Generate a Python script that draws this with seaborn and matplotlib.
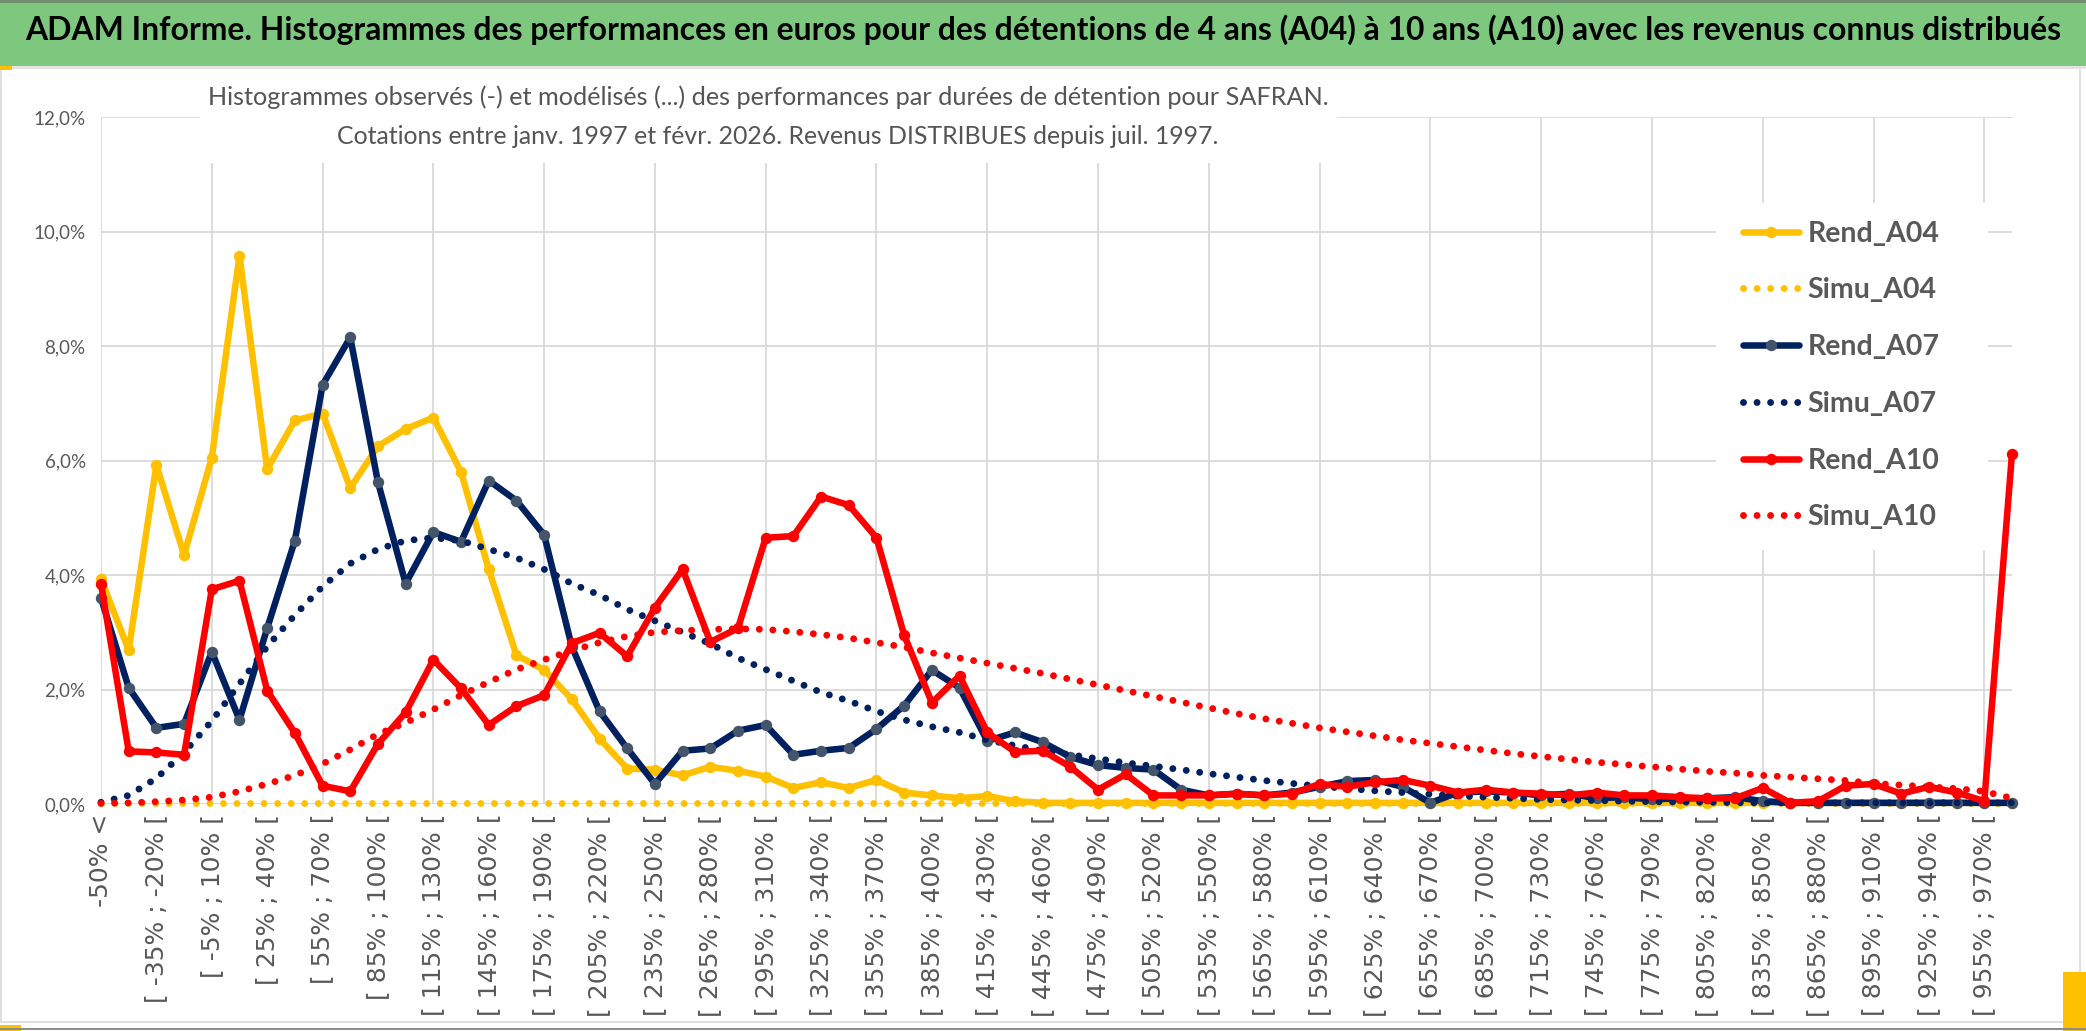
import matplotlib
matplotlib.use("Agg")
import numpy as np
import pandas as pd
import matplotlib.pyplot as plt
import seaborn as sns
from matplotlib.patches import Rectangle

# ---------------- data (percent) ----------------
categories = ["-50% <"] + [f"[ {lo}% ; {lo + 15}% [" for lo in range(-50, 970, 15)] + ["> 970%"]

rend_a04 = [3.93, 2.69, 5.92, 4.35, 6.05, 9.58, 5.85, 6.70, 6.82, 5.52,
            6.25, 6.55, 6.75, 5.80, 4.10, 2.60, 2.34, 1.83, 1.14, 0.62,
            0.60, 0.50, 0.65, 0.58, 0.48, 0.28, 0.38, 0.28, 0.42, 0.20,
            0.15, 0.10, 0.14, 0.05, 0.02, 0.02, 0.02, 0.02, 0.02, 0.02,
            0.02, 0.02, 0.02, 0.02, 0.02, 0.02, 0.02, 0.02, 0.02, 0.02,
            0.02, 0.02, 0.02, 0.02, 0.02, 0.02, 0.02, 0.02, 0.02, 0.02,
            0.02, 0.02, 0.02, 0.02, 0.02, 0.02, 0.02, 0.02, 0.02, 0.02]

simu_a04 = [0.02, 0.02, 0.02, 0.02, 0.02, 0.02, 0.02, 0.02, 0.02, 0.02,
            0.02, 0.02, 0.02, 0.02, 0.02, 0.02, 0.02, 0.02, 0.02, 0.02,
            0.02, 0.02, 0.02, 0.02, 0.02, 0.02, 0.02, 0.02, 0.02, 0.02,
            0.02, 0.02, 0.02, 0.02, 0.02, 0.02, 0.02, 0.02, 0.02, 0.02,
            0.02, 0.02, 0.02, 0.02, 0.02, 0.02, 0.02, 0.02, 0.02, 0.02,
            0.02, 0.02, 0.02, 0.02, 0.02, 0.02, 0.02, 0.02, 0.02, 0.02,
            0.02, 0.02, 0.02, 0.02, 0.02, 0.02, 0.02, 0.02, 0.02, 0.02]

rend_a07 = [3.60, 2.03, 1.33, 1.40, 2.66, 1.47, 3.07, 4.60, 7.32, 8.15,
            5.62, 3.85, 4.75, 4.58, 5.65, 5.30, 4.70, 2.75, 1.62, 0.97,
            0.35, 0.93, 0.97, 1.28, 1.38, 0.86, 0.93, 0.98, 1.31, 1.72,
            2.34, 2.03, 1.10, 1.25, 1.08, 0.82, 0.68, 0.63, 0.60, 0.25,
            0.15, 0.18, 0.15, 0.20, 0.30, 0.40, 0.42, 0.30, 0.02, 0.20,
            0.22, 0.20, 0.15, 0.18, 0.10, 0.12, 0.08, 0.10, 0.10, 0.12,
            0.05, 0.02, 0.02, 0.02, 0.02, 0.02, 0.02, 0.02, 0.02, 0.02]

simu_a07 = [0.03, 0.15, 0.45, 0.90, 1.45, 2.10, 2.75, 3.30, 3.80, 4.20,
            4.45, 4.60, 4.65, 4.60, 4.45, 4.30, 4.10, 3.85, 3.65, 3.40,
            3.20, 3.00, 2.80, 2.55, 2.35, 2.15, 1.95, 1.80, 1.62, 1.47,
            1.35, 1.25, 1.12, 1.02, 0.93, 0.86, 0.79, 0.72, 0.66, 0.60,
            0.53, 0.47, 0.41, 0.36, 0.31, 0.27, 0.23, 0.20, 0.17, 0.14,
            0.12, 0.10, 0.08, 0.07, 0.06, 0.05, 0.04, 0.035, 0.03, 0.025,
            0.02, 0.02, 0.02, 0.02, 0.02, 0.02, 0.02, 0.02, 0.02, 0.02]

rend_a10 = [3.85, 0.92, 0.90, 0.86, 3.75, 3.90, 1.98, 1.24, 0.32, 0.22,
            1.05, 1.60, 2.52, 2.02, 1.38, 1.71, 1.90, 2.81, 2.99, 2.58,
            3.43, 4.10, 2.83, 3.07, 4.65, 4.68, 5.37, 5.22, 4.65, 2.95,
            1.77, 2.24, 1.25, 0.91, 0.93, 0.65, 0.25, 0.52, 0.15, 0.15,
            0.15, 0.18, 0.15, 0.18, 0.35, 0.30, 0.38, 0.42, 0.32, 0.20,
            0.25, 0.20, 0.18, 0.15, 0.20, 0.15, 0.15, 0.12, 0.10, 0.10,
            0.28, 0.02, 0.05, 0.32, 0.35, 0.18, 0.30, 0.20, 0.05, 6.12]

simu_a10 = [0.01, 0.02, 0.04, 0.07, 0.12, 0.22, 0.35, 0.50, 0.70, 0.95,
            1.22, 1.42, 1.65, 1.90, 2.13, 2.35, 2.52, 2.68, 2.82, 2.93,
            3.00, 3.03, 3.05, 3.06, 3.05, 3.01, 2.96, 2.90, 2.82, 2.74,
            2.64, 2.55, 2.46, 2.37, 2.28, 2.18, 2.08, 1.98, 1.88, 1.78,
            1.68, 1.58, 1.49, 1.41, 1.33, 1.26, 1.19, 1.12, 1.06, 1.00,
            0.94, 0.88, 0.83, 0.78, 0.73, 0.69, 0.65, 0.61, 0.57, 0.54,
            0.50, 0.47, 0.44, 0.41, 0.36, 0.33, 0.30, 0.27, 0.22, 0.10]

series_names = ["Rend_A04", "Simu_A04", "Rend_A07", "Simu_A07", "Rend_A10", "Simu_A10"]
series_values = [rend_a04, simu_a04, rend_a07, simu_a07, rend_a10, simu_a10]

title = ("ADAM Informe. Histogrammes des performances en euros pour des détentions de 4 ans (A04) "
         "à 10 ans (A10) avec les revenus connus distribués")
subtitle1 = "Histogrammes observés (-) et modélisés (...) des performances par durées de détention pour SAFRAN."
subtitle2 = "Cotations entre janv. 1997 et févr. 2026. Revenus DISTRIBUES depuis juil. 1997."

y_ticks = [0.0, 2.0, 4.0, 6.0, 8.0, 10.0, 12.0]

# ---------------- build long table ----------------
rows = []
for name, vals in zip(series_names, series_values):
    for k, v in enumerate(vals):
        rows.append({"k": k, "value": v / 100.0, "series": name})
df = pd.DataFrame(rows)

# ---------------- style ----------------
sns.set_theme(style="white")
plt.rcParams['font.family'] = ['Lato', 'DejaVu Sans']

W, H = 2086, 1031
fig = plt.figure(figsize=(W / 100, H / 100), dpi=100)
fig.patch.set_facecolor("white")

ax_left, ax_right = 101, 2012
ax_top, ax_bot = 117, 804
ax = fig.add_axes([ax_left / W, 1 - ax_bot / H, (ax_right - ax_left) / W, (ax_bot - ax_top) / H])
ax.set_facecolor("none")

styles = {
    "Rend_A04": dict(color="#FFC000", mcolor="#FFC000", rend=True),
    "Simu_A04": dict(color="#FFC000", rend=False),
    "Rend_A07": dict(color="#002060", mcolor="#44546A", rend=True),
    "Simu_A07": dict(color="#002060", rend=False),
    "Rend_A10": dict(color="#FF0000", mcolor="#FF0000", rend=True),
    "Simu_A10": dict(color="#FF0000", rend=False),
}

for name in series_names:
    st = styles[name]
    sub = df[df["series"] == name]
    if st["rend"]:
        sns.lineplot(data=sub, x="k", y="value", ax=ax, color=st["color"], label=name,
                     linewidth=4.7, marker="o", markersize=8.2,
                     markerfacecolor=st["mcolor"], markeredgecolor=st["mcolor"],
                     markeredgewidth=0, solid_joinstyle="round", solid_capstyle="round",
                     errorbar=None, sort=False)
    else:
        sns.lineplot(data=sub, x="k", y="value", ax=ax, color=st["color"], label=name,
                     linewidth=5.0, linestyle=(0, (0.001, 1.95)), dash_capstyle="round",
                     errorbar=None, sort=False)

for ln in ax.get_lines():
    ln.set_clip_on(False)

handles, labels = ax.get_legend_handles_labels()
if ax.get_legend() is not None:
    ax.get_legend().remove()

ax.set_xlim(0, len(categories) - 1)
ax.set_ylim(0, 0.12)
ax.set_xlabel("")
ax.set_ylabel("")

# grid
ax.grid(False)
for xv in np.arange(0, len(categories), 4):
    ax.axvline(xv, color="#D9D9D9", lw=1.3, zorder=0)
for yv in y_ticks:
    ax.axhline(yv / 100, color="#D9D9D9", lw=1.3, zorder=0)

ax.set_xticks(np.arange(0, len(categories), 2))
ax.set_xticklabels(categories[::2], rotation=90, ha="center", va="top",
                   fontsize=18, color="#595959", family=["DejaVu Sans"])
ax.set_yticks([v / 100 for v in y_ticks])
ax.set_yticklabels([f"{v:.1f}%".replace(".", ",") for v in y_ticks], fontsize=13.5, color="#595959")
ax.tick_params(axis="both", length=0)
ax.tick_params(axis="x", pad=7)
ax.tick_params(axis="y", pad=11)
for s in ax.spines.values():
    s.set_visible(False)

# ---------------- frame / decorations ----------------
def frect(x0, y0, x1, y1, **kw):
    r = Rectangle((x0 / W, 1 - y1 / H), (x1 - x0) / W, (y1 - y0) / H,
                  transform=fig.transFigure, **kw)
    fig.patches.append(r)
    return r

frect(1, 68, 2080, 1022, facecolor="none", edgecolor="#D9D9D9", lw=1.2, zorder=-1)
frect(0, 0, W, 66, facecolor="#7DC87E", edgecolor="none", zorder=2)
frect(0, 0, W, 3, facecolor="#6F8F6F", edgecolor="none", zorder=2)
frect(0, 66, W, 69, facecolor="#E4E4E4", edgecolor="none", zorder=2)
frect(0, 66, 12, 70, facecolor="#FFC000", edgecolor="none", zorder=2)
frect(0, 1025, 21, 1031, facecolor="#FFC000", edgecolor="none", zorder=2)
frect(2063, 972, W, 1031, facecolor="#FFC000", edgecolor="none", zorder=2)
frect(0, 1028, W, 1030, facecolor="#8C8C8C", edgecolor="none", zorder=2)

# white boxes behind subtitle and legend (hide gridlines)
frect(200, 72, 1337, 163, facecolor="white", edgecolor="none", zorder=1)
frect(1716, 203, 1988, 550, facecolor="white", edgecolor="none", zorder=1)

renderer = fig.canvas.get_renderer()

def fitted_text(x, y, s, target_w, **kw):
    t = fig.text(x / W, 1 - y / H, s, ha="center", va="center", fontsize=20, **kw)
    bb = t.get_window_extent(renderer=renderer)
    t.set_fontsize(20 * target_w / bb.width)
    return t

fitted_text(1043, 30, title, 2040, fontweight="bold", color="black", zorder=3)
fitted_text(768, 97, subtitle1, 1124, color="#555555", zorder=3)
fitted_text(778, 136, subtitle2, 886, color="#555555", zorder=3)

leg = fig.legend(handles, labels, loc="upper left",
                 bbox_to_anchor=(1734 / W, 1 - 212 / H), bbox_transform=fig.transFigure,
                 frameon=False, fontsize=20.5, labelcolor="#595959",
                 handlelength=2.0, handletextpad=0.28, labelspacing=1.08,
                 borderpad=0.3, borderaxespad=0)
for txt in leg.get_texts():
    txt.set_fontweight("bold")

fig.savefig("out.png", dpi=100, facecolor="white")
